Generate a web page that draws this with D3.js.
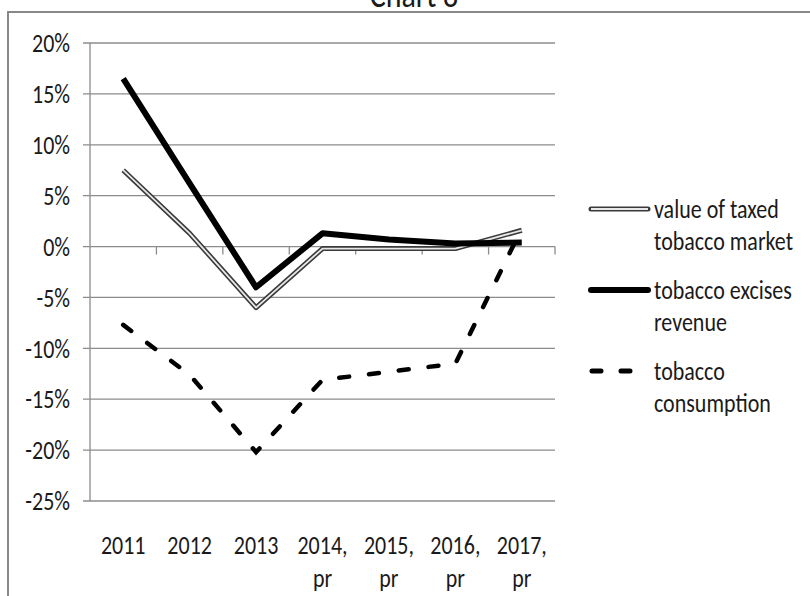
<!DOCTYPE html>
<html>
<head>
<meta charset="utf-8">
<script src="https://cdn.jsdelivr.net/npm/d3@7"></script>
<style>
  html, body { margin: 0; padding: 0; background: #fff; }
  svg text { font-family: "Carlito", "Liberation Sans Narrow", "Arial Narrow", sans-serif; fill: #1a1a1a; }
</style>
</head>
<body>
<svg id="chart" width="810" height="596"></svg>
<script>
// Annual change, %
const categories = ["2011", "2012", "2013", "2014, pr", "2015, pr", "2016, pr", "2017, pr"];
const marketValue = [7.5, 1.3, -6.0, -0.2, -0.2, -0.2, 1.6];
const excisesRevenue = [16.5, 6.2, -4.0, 1.3, 0.7, 0.3, 0.4];
const consumption = [-7.7, -12.6, -20.2, -13.1, -12.3, -11.5, 1.8];
const yTicks = [20, 15, 10, 5, 0, -5, -10, -15, -20, -25];
const legendLabels = [["value of taxed", "tobacco market"], ["tobacco excises", "revenue"], ["tobacco", "consumption"]];

const svg = d3.select("#chart");
const plot = { left: 90, right: 555, top: 43, bottom: 501 };
const FONT = 22;
const STRETCH = 1.2; // text glyphs are drawn slightly tall and narrow

const x = d3.scaleBand().domain(categories).range([plot.left, plot.right]);
const y = d3.scaleLinear().domain([-25, 20]).range([plot.bottom, plot.top]);
const cx = d => x(d) + x.bandwidth() / 2;

// Draws a label centred vertically on (px, py)
function label(parent, px, py, str, anchor) {
  parent.append("g")
    .attr("transform", `translate(${px},${py}) scale(1,${STRETCH})`)
    .append("text")
    .attr("x", 0).attr("y", 0).attr("dy", "0.35em")
    .attr("text-anchor", anchor || "start")
    .attr("font-size", FONT)
    .text(str);
}

// Chart frame
svg.append("rect")
  .attr("x", 8).attr("y", 12).attr("width", 810).attr("height", 600)
  .attr("fill", "none").attr("stroke", "#888").attr("stroke-width", 2);

// Title, baseline just above the frame
svg.append("g")
  .attr("transform", `translate(414,7) scale(1,${STRETCH})`)
  .append("text")
  .attr("text-anchor", "middle")
  .attr("font-size", 30)
  .text("Chart 8");

// Gridlines
svg.append("g").selectAll("line").data(yTicks).join("line")
  .attr("x1", plot.left - 7).attr("x2", plot.right)
  .attr("y1", d => y(d)).attr("y2", d => y(d))
  .attr("stroke", "#8c8c8c").attr("stroke-width", 1.3);

// Vertical axis line
svg.append("line")
  .attr("x1", plot.left).attr("x2", plot.left)
  .attr("y1", y(20)).attr("y2", y(-25))
  .attr("stroke", "#8c8c8c").attr("stroke-width", 1.3);

// Y tick labels
const yl = svg.append("g");
yTicks.forEach(t => label(yl, 70, y(t), t + "%", "end"));

// Category tick marks on the zero line
const boundaries = categories.map(c => x(c) + x.bandwidth());
svg.append("g").selectAll("line").data(boundaries).join("line")
  .attr("x1", d => d).attr("x2", d => d)
  .attr("y1", y(0)).attr("y2", y(0) + 8)
  .attr("stroke", "#8c8c8c").attr("stroke-width", 1.3);

// Category labels (wrapped at the space)
const xl = svg.append("g");
categories.forEach(c => {
  c.split(" ").forEach((p, i) => label(xl, cx(c), 545 + i * 33, p, "middle"));
});

const line = d3.line().x((d, i) => cx(categories[i])).y(d => y(d));

// value of taxed tobacco market: outlined double line
svg.append("path").datum(marketValue)
  .attr("d", line).attr("fill", "none")
  .attr("stroke", "#3a3a3a").attr("stroke-width", 5).attr("stroke-linejoin", "round");
svg.append("path").datum(marketValue)
  .attr("d", line).attr("fill", "none")
  .attr("stroke", "#e8e8e8").attr("stroke-width", 1.8).attr("stroke-linejoin", "round");

// tobacco excises revenue
svg.append("path").datum(excisesRevenue)
  .attr("d", line).attr("fill", "none")
  .attr("stroke", "#000").attr("stroke-width", 6).attr("stroke-linejoin", "round");

// tobacco consumption
svg.append("path").datum(consumption)
  .attr("d", line).attr("fill", "none")
  .attr("stroke", "#000").attr("stroke-width", 4.5)
  .attr("stroke-linecap", "round").attr("stroke-dasharray", "10,20");

// Legend
const legendTop = [209, 290, 371];
const lg = svg.append("g");
legendLabels.forEach((lines, i) => {
  const yy = legendTop[i];
  if (i === 0) {
    lg.append("line").attr("x1", 591).attr("x2", 648).attr("y1", yy).attr("y2", yy)
      .attr("stroke", "#3a3a3a").attr("stroke-width", 5).attr("stroke-linecap", "round");
    lg.append("line").attr("x1", 591).attr("x2", 648).attr("y1", yy).attr("y2", yy)
      .attr("stroke", "#e8e8e8").attr("stroke-width", 1.8);
  } else if (i === 1) {
    lg.append("line").attr("x1", 591).attr("x2", 648).attr("y1", yy).attr("y2", yy)
      .attr("stroke", "#000").attr("stroke-width", 6).attr("stroke-linecap", "round");
  } else {
    lg.append("line").attr("x1", 592).attr("x2", 648).attr("y1", yy).attr("y2", yy)
      .attr("stroke", "#000").attr("stroke-width", 5)
      .attr("stroke-linecap", "round").attr("stroke-dasharray", "9,20");
  }
  lines.forEach((s, j) => label(lg, 654, yy + j * 32, s, "start"));
});
</script>
</body>
</html>
